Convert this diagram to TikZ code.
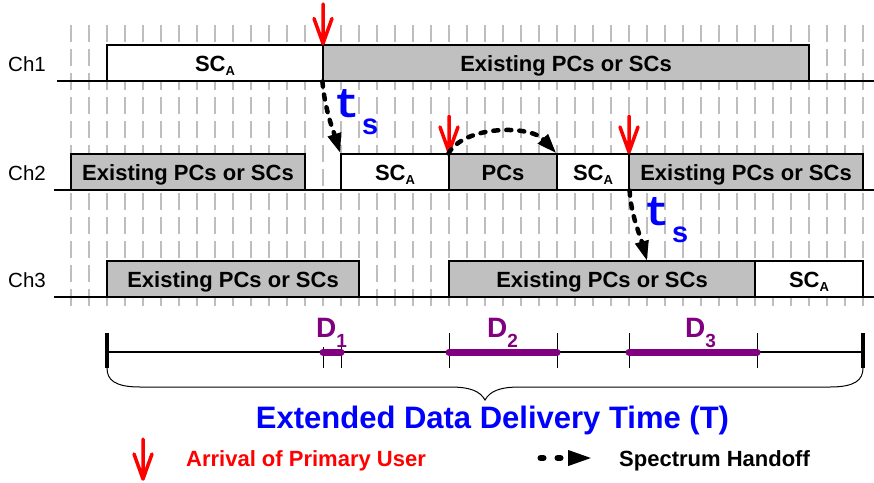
\documentclass[tikz,border=0pt]{standalone}
\usepackage{fontspec}
\setmainfont{Liberation Sans}
\newfontfamily\tsmono{Liberation Mono}
\usetikzlibrary{arrows.meta}
\definecolor{pu}{RGB}{128,0,128}
\definecolor{bl}{RGB}{0,0,255}
\definecolor{rd}{RGB}{255,0,0}
\definecolor{gr}{RGB}{192,192,192}
\definecolor{gl}{RGB}{190,190,190}
\newcommand\scsub{\raisebox{-4pt}{\fontsize{13}{13}\selectfont A}}
\newcommand\dsub[1]{\raisebox{-10pt}{\fontsize{19}{19}\selectfont #1}}
\newcommand\tslabel{{\tsmono\bfseries\fontsize{42}{42}\selectfont t\hspace{2pt}\raisebox{-17pt}{\fontsize{29}{29}\selectfont s}}}
\newcommand\pumark[3]{\draw[rd, line width=3.5pt, line cap=round, line join=round] (#1,#2) -- (#1,#3) (#1-9,#3-25) -- (#1,#3) -- (#1+9,#3-25);}
\begin{document}
\begin{tikzpicture}[x=1pt,y=-1pt,
  chbox/.style={draw, line width=1.2pt, minimum height=36pt, inner sep=0pt, text height=16pt, text depth=0pt, font=\bfseries\fontsize{22}{24}\selectfont},
  busy/.style={chbox, fill=gr},
  free/.style={chbox, fill=white},
  gridl/.style={gl, line width=2pt, dash pattern=on 17pt off 7pt},
  chline/.style={line width=1.2pt},
  chlab/.style={anchor=base west, inner sep=0pt, font=\fontsize{20.5}{22}\selectfont},
  handoff/.style={line width=4.5pt, dash pattern=on 5pt off 8pt, line cap=round, -{Triangle[length=20pt,width=13pt]}},
  dlab/.style={anchor=base west, inner sep=0pt, fill=white, text=pu, font=\bfseries\fontsize{28}{28}\selectfont},
  tslab/.style={anchor=base west, inner sep=0pt, text=bl},
  legtext/.style={anchor=base west, inner sep=0pt, font=\bfseries\fontsize{22}{24}\selectfont}
]
\useasboundingbox (0,0) rectangle (874,482);
% grid
\foreach \k in {0,...,44} {
  \draw[gridl] (71+18*\k,25) -- (71+18*\k,306);
}
% channel lines
\draw[chline] (57,81) -- (874,81);
\draw[chline] (54,190) -- (874,190);
\draw[chline] (54,297) -- (874,297);
% channel labels
\node[chlab] (c1) at (8,71.5) {Ch1};
\node[chlab] (c2) at (8,180) {Ch2};
\node[chlab] (c3) at (8,287) {Ch3};
% boxes
\node[free, minimum width=216pt] (a1) at (215,63) {SC\scsub};
\node[busy, minimum width=486pt] (e1) at (566,63) {Existing PCs or SCs};
\node[busy, minimum width=234pt] (e2a) at (188,172) {Existing PCs or SCs};
\node[free, minimum width=108pt] (s2) at (395,172) {SC\scsub};
\node[busy, minimum width=108pt] (p2) at (503,172) {PCs};
\node[free, minimum width=72pt] (s2b) at (593,172) {SC\scsub};
\node[busy, minimum width=234pt] (e2b) at (746,172) {Existing PCs or SCs};
\node[busy, minimum width=252pt] (e3a) at (233,279) {Existing PCs or SCs};
\node[busy, minimum width=306pt] (e3b) at (602,279) {Existing PCs or SCs};
\node[free, minimum width=108pt] (s3) at (809,279) {SC\scsub};
% primary user arrivals
\pumark{323}{4}{43.5}
\pumark{449}{116}{152}
\pumark{629}{116}{152}
% handoffs
\coordinate (h3) at (647,261);
\draw[handoff] (e1.south west) .. controls (325,110) and (333,130) .. (s2.north west);
\draw[handoff] (p2.north west) .. controls (465,125) and (530,125) .. (s2b.north west);
\draw[handoff] (s2b.south east) .. controls (631,215) and (640,235) .. (h3);
\node[tslab] (ts1) at (334,117) {\tslabel};
\node[tslab] (ts2) at (644,225) {\tslabel};
% timeline
\coordinate (t0) at (107,352);
\coordinate (t1) at (863,352);
\draw[line width=2pt] (t0) -- (t1);
\draw[line width=3.5pt] (107,333) -- (107,368) (863,333) -- (863,368);
\foreach \xx in {323,341,449,557,629,757} {
  \draw[line width=1pt] (\xx,333) -- (\xx,368);
}
\draw[pu, line width=7pt, line cap=round] (323,352) -- (341,352);
\draw[pu, line width=7pt, line cap=round] (449,352) -- (557,352);
\draw[pu, line width=7pt, line cap=round] (629,352) -- (757,352);
\node[dlab] (d1) at (316,337) {D\dsub{1}};
\node[dlab] (d2) at (487,337) {D\dsub{2}};
\node[dlab] (d3) at (685,337) {D\dsub{3}};
% brace
\draw[line width=1pt] (107,368) .. controls (107,380) and (115,387) .. (140,387) -- (450,387) .. controls (470,387) and (480,391) .. (485,400) .. controls (490,391) and (500,387) .. (520,387) -- (830,387) .. controls (855,387) and (863,380) .. (863,368);
\node[anchor=base, inner sep=0pt, text=bl, font=\bfseries\fontsize{31}{32}\selectfont] (tt) at (492.5,428) {Extended Data Delivery Time (T)};
% legend
\pumark{143}{439}{479}
\node[legtext, text=rd] (l1) at (186,466) {Arrival of Primary User};
\coordinate (lh0) at (540.5,458);
\coordinate (lh1) at (593,458);
\draw[line width=6pt, dash pattern=on 3pt off 14pt, line cap=round, -{Triangle[length=25pt,width=14pt]}] (lh0) -- (lh1);
\node[legtext] (l2) at (619,466) {Spectrum Handoff};
\end{tikzpicture}
\end{document}
